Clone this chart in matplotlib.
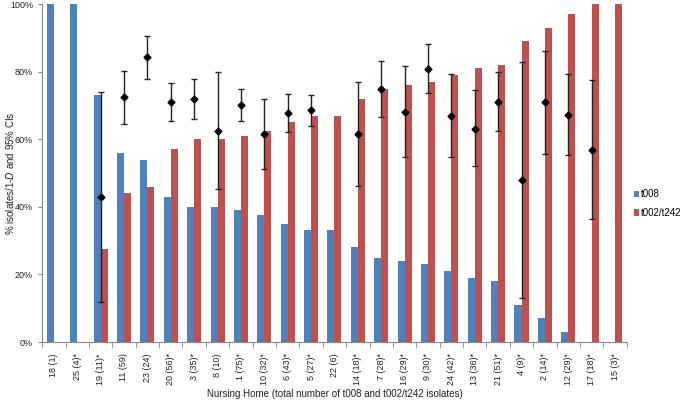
import numpy as np
import matplotlib.pyplot as plt
from matplotlib.ticker import PercentFormatter

plt.rcParams["font.family"] = ["Liberation Sans", "DejaVu Sans"]

homes = ["18 (1)", "25 (4)*", "19 (11)*", "11 (59)", "23 (24)", "20 (56)*", "3 (35)*",
         "8 (10)", "1 (75)*", "10 (32)*", "6 (43)*", "5 (27)*", "22 (6)", "14 (18)*",
         "7 (28)*", "16 (29)*", "9 (30)*", "24 (42)*", "13 (36)*", "21 (51)*", "4 (9)*",
         "2 (14)*", "12 (29)*", "17 (18)*", "15 (3)*"]

t008 = [100, 100, 73, 56, 54, 43, 40, 40, 39, 37.5, 35, 33, 33, 28, 25, 24, 23, 21, 19,
        18, 11, 7, 3, 0, 0]
t002_t242 = [0, 0, 27.5, 44, 46, 57, 60, 60, 61, 62.5, 65, 67, 67, 72, 75, 76, 77, 79, 81,
             82, 89, 93, 97, 100, 100]

# 1-D with 95% CI (nan where not reported)
div = [np.nan, np.nan, 43, 72.6, 84.2, 71, 71.9, 62.5, 70.1, 61.6, 67.8, 68.6, np.nan,
       61.5, 74.9, 68.1, 80.9, 67, 63.1, 71.1, 47.9, 70.9, 67.3, 56.9, np.nan]
div_lo = [np.nan, np.nan, 11.8, 64.6, 77.9, 65.4, 66, 45.2, 65.4, 51.3, 62.2, 63.9, np.nan,
          46.2, 66.5, 54.6, 73.7, 54.8, 52, 62.4, 13.1, 55.7, 55.3, 36.3, np.nan]
div_hi = [np.nan, np.nan, 74, 80.3, 90.6, 76.5, 77.9, 79.9, 74.9, 71.8, 73.4, 73.1, np.nan,
          77, 83.2, 81.8, 88.2, 79.2, 74.5, 79.9, 82.8, 86.2, 79.3, 77.4, np.nan]

blue = "#4F81BD"
red = "#C0504D"

x = np.arange(len(homes))
div = np.array(div)
div_lo = np.array(div_lo)
div_hi = np.array(div_hi)

fig = plt.figure(figsize=(6.91, 4.01), dpi=100)
ax = fig.add_axes([0.061, 0.147, 0.846, 0.843])

w = 0.3
ax.bar(x - w/2, t008, w, color=blue, label="t008")
ax.bar(x + w/2, t002_t242, w, color=red, label="t002/t242")

ok = ~np.isnan(div)
ax.errorbar(x[ok], div[ok], yerr=[div[ok] - div_lo[ok], div_hi[ok] - div[ok]],
            fmt="D", color="black", ms=3.5, ecolor="#222222", elinewidth=1,
            capsize=2.5, capthick=1)

ax.set_xlim(-0.5, len(homes) - 0.5)
ax.set_ylim(0, 100)
ax.set_yticks([0, 20, 40, 60, 80, 100])
ax.yaxis.set_major_formatter(PercentFormatter(decimals=0))
ax.set_xticks(x)
ax.set_xticklabels(homes, rotation=90, fontsize=6.5, color="#222222")
ax.set_xticks(np.arange(len(homes) + 1) - 0.5, minor=True)
ax.tick_params(axis="x", which="major", length=0, pad=8)
ax.tick_params(axis="x", which="minor", length=4, color="#888888")
ax.tick_params(axis="y", labelsize=6.5, length=3, color="#888888", labelcolor="#222222")

for s in ["top", "right"]:
    ax.spines[s].set_visible(False)
for s in ["left", "bottom"]:
    ax.spines[s].set_color("#888888")

ax.set_ylabel("% isolates/1-$\\it{D}$ and 95% CIs", fontsize=7, color="#222222")
ax.yaxis.set_label_coords(-0.044, 0.5)
ax.set_xlabel("Nursing Home (total number of t008 and t002/t242 isolates)",
              fontsize=7, color="#222222", labelpad=3)

fig.legend(loc="upper left", bbox_to_anchor=(0.907, 0.545), frameon=False,
           fontsize=7, handlelength=0.6, handleheight=0.6, handletextpad=0.15,
           labelspacing=0.9, borderpad=0.2)

fig.savefig("out.png", dpi=100)
